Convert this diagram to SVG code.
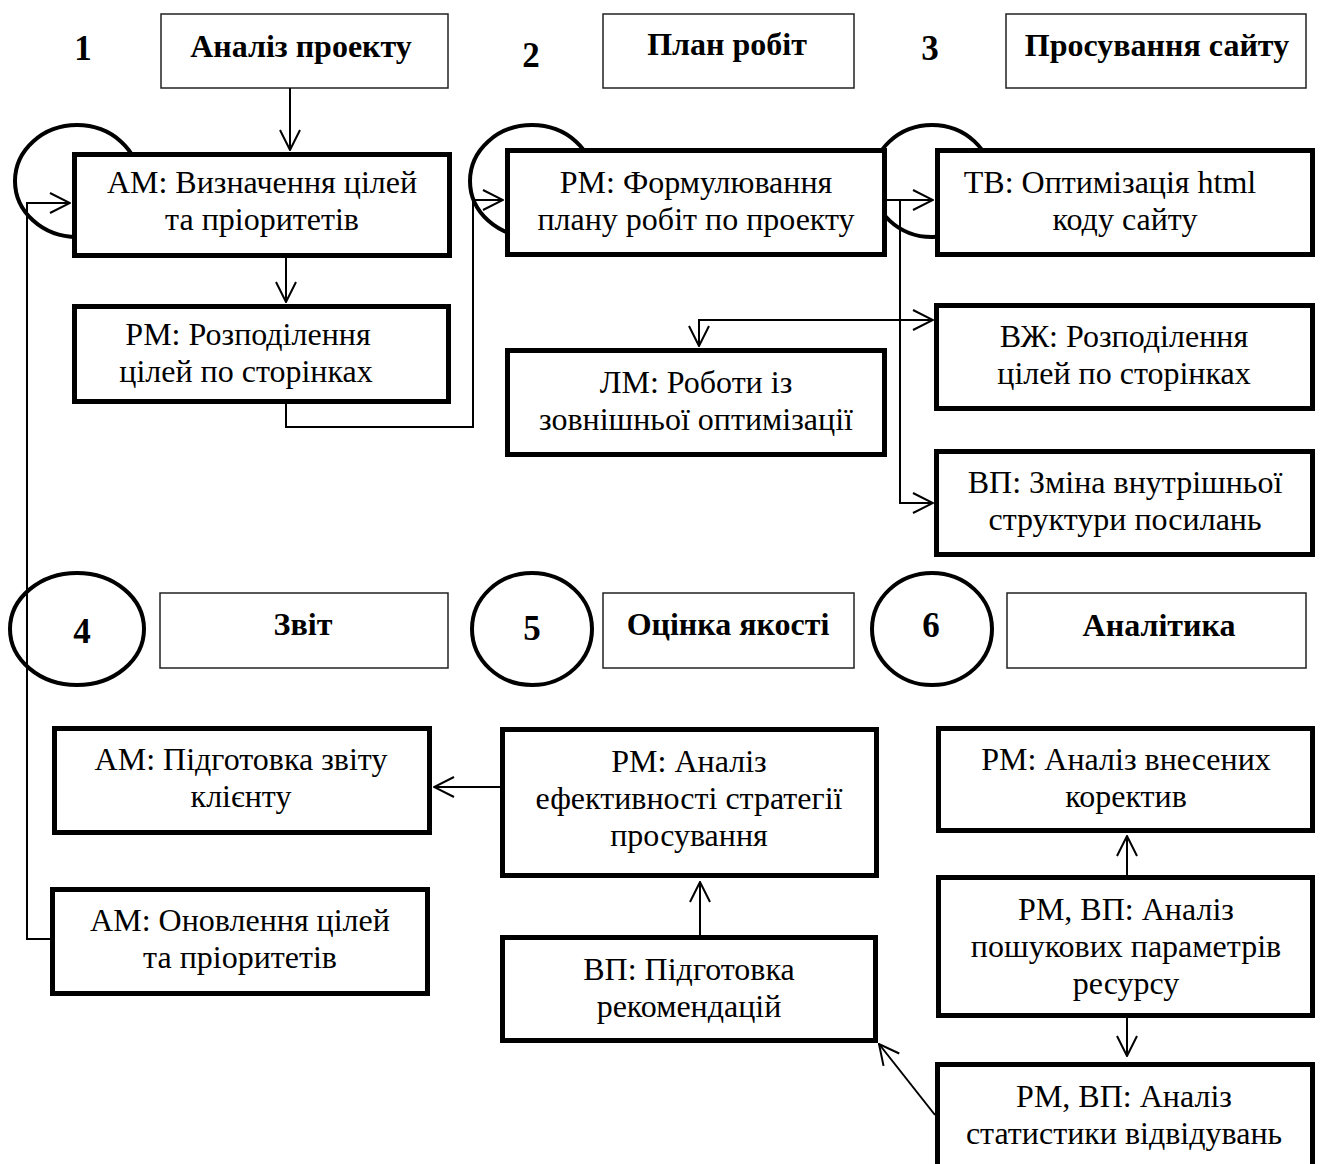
<svg xmlns="http://www.w3.org/2000/svg" width="1320" height="1164" viewBox="0 0 1320 1164">
<style>
.bg{fill:#fff}
.hdr{fill:#fff;stroke:#222;stroke-width:1.5}
.box{fill:#fff;stroke:#000;stroke-width:5}
.ring{fill:none;stroke:#000;stroke-width:4}
.t{font-family:"Liberation Serif","Times New Roman",serif;font-size:32px;fill:#000;text-anchor:middle}
.b{font-family:"Liberation Serif","Times New Roman",serif;font-size:32px;font-weight:bold;fill:#000;text-anchor:middle}
.n{font-family:"Liberation Serif","Times New Roman",serif;font-size:35px;font-weight:bold;fill:#000;text-anchor:middle}
.c{fill:none;stroke:#000;stroke-width:2}
</style>
<defs>
<marker id="ah" viewBox="0 0 22 22" refX="21" refY="11" markerWidth="22" markerHeight="22" markerUnits="userSpaceOnUse" orient="auto">
<path d="M1,1 L21,11 L1,21" fill="none" stroke="#000" stroke-width="2"/>
</marker>
</defs>
<rect class="bg" x="0" y="0" width="1320" height="1164"/>

<g id="rings">
<ellipse class="ring" cx="77" cy="181" rx="62" ry="56"/>
<ellipse class="ring" cx="532" cy="181" rx="62" ry="56"/>
<ellipse class="ring" cx="932" cy="181" rx="60" ry="56"/>
</g>

<g id="h1"><text class="n" x="83" y="60">1</text></g>
<g id="hdr1"><rect class="hdr" x="161" y="14" width="287" height="74"/><text class="b" x="301" y="57">Аналіз проекту</text></g>
<g id="h2"><text class="n" x="531" y="67">2</text></g>
<g id="hdr2"><rect class="hdr" x="603" y="14" width="251" height="74"/><text class="b" x="727" y="55">План робіт</text></g>
<g id="h3"><text class="n" x="930" y="60">3</text></g>
<g id="hdr3"><rect class="hdr" x="1006" y="14" width="300" height="74"/><text class="b" x="1157" y="56">Просування сайту</text></g>

<g id="connectors">
<path class="c" d="M290,88 V150" marker-end="url(#ah)"/>
<path class="c" d="M286,258 V302" marker-end="url(#ah)"/>
<path class="c" d="M286,404 V427 H473 V200 H503" marker-end="url(#ah)"/>
<path class="c" d="M887,200 H933" marker-end="url(#ah)"/>
<path class="c" d="M900,200 V503 H933" marker-end="url(#ah)"/>
<path class="c" d="M900,320 H933" marker-end="url(#ah)"/>
<path class="c" d="M900,320 H699 V346" marker-end="url(#ah)"/>
<path class="c" d="M50,939 H27 V203 H70" marker-end="url(#ah)"/>
<path class="c" d="M500,787 H434" marker-end="url(#ah)"/>
<path class="c" d="M700,935 V882" marker-end="url(#ah)"/>
<path class="c" d="M1127,875 V836" marker-end="url(#ah)"/>
<path class="c" d="M1127,1018 V1056" marker-end="url(#ah)"/>
<path class="c" d="M935,1115 L879,1044" marker-end="url(#ah)"/>
</g>

<g id="nA"><rect class="box" x="74.5" y="154.5" width="375" height="101"/><text class="t" x="262" y="193">АМ: Визначення цілей</text><text class="t" x="262" y="230">та пріоритетів</text></g>
<g id="nB"><rect class="box" x="74.5" y="306.5" width="374" height="95"/><text class="t" x="248" y="345">РМ: Розподілення</text><text class="t" x="246" y="382">цілей по сторінках</text></g>
<g id="n2"><rect class="box" x="507.5" y="150.5" width="377" height="104"/><text class="t" x="696" y="193">РМ: Формулювання</text><text class="t" x="696" y="230">плану робіт по проекту</text></g>
<g id="n3"><rect class="box" x="937.5" y="150.5" width="375" height="104"/><text class="t" x="1110" y="193">ТВ: Оптимізація html</text><text class="t" x="1125" y="230">коду сайту</text></g>
<g id="nLM"><rect class="box" x="507.5" y="350.5" width="377" height="104"/><text class="t" x="696" y="393">ЛМ: Роботи із</text><text class="t" x="696" y="430">зовнішньої оптимізації</text></g>
<g id="nVZh"><rect class="box" x="936.5" y="305.5" width="376" height="103"/><text class="t" x="1124" y="347">ВЖ: Розподілення</text><text class="t" x="1124" y="384">цілей по сторінках</text></g>
<g id="nVP1"><rect class="box" x="936.5" y="451.5" width="376" height="103"/><text class="t" x="1125" y="493">ВП: Зміна внутрішньої</text><text class="t" x="1125" y="530">структури посилань</text></g>

<g id="rings2">
<ellipse class="ring" cx="77" cy="629" rx="67" ry="56"/>
<ellipse class="ring" cx="532" cy="629" rx="60" ry="56"/>
<ellipse class="ring" cx="932" cy="629" rx="60" ry="56"/>
</g>
<g id="h4"><text class="n" x="82" y="643">4</text></g>
<g id="hdr4"><rect class="hdr" x="160" y="593" width="288" height="75"/><text class="b" x="303" y="635">Звіт</text></g>
<g id="h5"><text class="n" x="532" y="640">5</text></g>
<g id="hdr5"><rect class="hdr" x="603" y="593" width="251" height="75"/><text class="b" x="728" y="635">Оцінка якості</text></g>
<g id="h6"><text class="n" x="931" y="637">6</text></g>
<g id="hdr6"><rect class="hdr" x="1007" y="593" width="299" height="75"/><text class="b" x="1159" y="636">Аналітика</text></g>

<g id="nRep"><rect class="box" x="54.5" y="728.5" width="375" height="104"/><text class="t" x="241" y="770">АМ: Підготовка звіту</text><text class="t" x="241" y="807">клієнту</text></g>
<g id="nUpd"><rect class="box" x="52.5" y="889.5" width="375" height="104"/><text class="t" x="240" y="931">АМ: Оновлення цілей</text><text class="t" x="240" y="968">та пріоритетів</text></g>
<g id="nEff"><rect class="box" x="502.5" y="729.5" width="374" height="146"/><text class="t" x="689" y="772">РМ: Аналіз</text><text class="t" x="689" y="809">ефективності стратегії</text><text class="t" x="689" y="846">просування</text></g>
<g id="nRec"><rect class="box" x="502.5" y="937.5" width="373" height="103"/><text class="t" x="689" y="980">ВП: Підготовка</text><text class="t" x="689" y="1017">рекомендацій</text></g>
<g id="nCor"><rect class="box" x="938.5" y="728.5" width="374" height="102"/><text class="t" x="1126" y="770">РМ: Аналіз внесених</text><text class="t" x="1126" y="807">коректив</text></g>
<g id="nSrch"><rect class="box" x="938.5" y="877.5" width="374" height="138"/><text class="t" x="1126" y="920">РМ, ВП: Аналіз</text><text class="t" x="1126" y="957">пошукових параметрів</text><text class="t" x="1126" y="994">ресурсу</text></g>
<g id="nStat"><rect class="box" x="937.5" y="1064.5" width="375" height="130"/><text class="t" x="1124" y="1107">РМ, ВП: Аналіз</text><text class="t" x="1124" y="1144">статистики відвідувань</text></g>
</svg>
